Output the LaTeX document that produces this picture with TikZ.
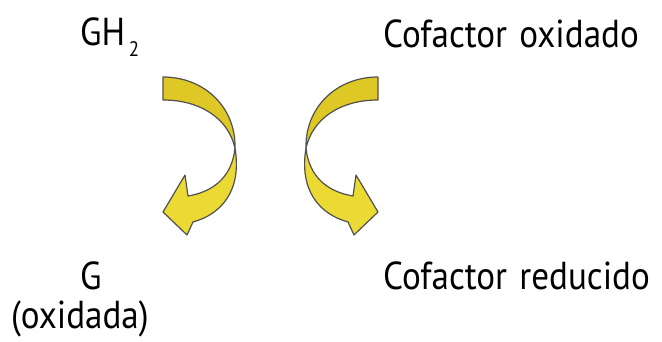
\documentclass[tikz,border=0pt]{standalone}
\usepackage{fontspec}
\setmainfont{PT Sans}
\definecolor{ribbonA}{RGB}{236,218,52}
\definecolor{ribbonB}{RGB}{222,200,38}
\definecolor{ribbonEdge}{RGB}{80,80,80}
\tikzset{
  lbl/.style={anchor=base west, inner sep=0pt, font=\fontsize{39}{44}\selectfont},
  band/.style={draw=ribbonEdge, line width=1.2pt, line join=round},
}
\newcommand{\narrow}[1]{\scalebox{0.9}[1]{#1}}
\newcommand{\lowtwo}{\hspace{0.1em}\raisebox{-0.3em}{\fontsize{21}{22}\selectfont 2}}
\begin{document}
\begin{tikzpicture}[x=1pt,y=-1pt]
  \useasboundingbox (0,0) rectangle (662,341);
  % labels
  \node[lbl] (gh2) at (80,45) {\narrow{GH\lowtwo}};
  \node[lbl] (cofox) at (383,47) {\narrow{Cofactor\hspace{0.35em}oxidado}};
  \node[lbl] (g) at (80,289) {\narrow{G}};
  \node[lbl] (gox) at (11,328) {\narrow{(oxidada)}};
  \node[lbl] (cofred) at (383,289) {\narrow{Cofactor\hspace{0.35em}reducido}};
  % twisted ribbon arrow, drawn once and mirrored
  \newcommand{\twistarrow}{%
    % lower band with head
    \filldraw[band, fill=ribbonA]
      (235,148) .. controls (232,178) and (212,192) .. (188,196)
      -- (185,175) -- (163,212) -- (187,235) -- (193,222)
      .. controls (222,214) and (242,190) .. (235,148) -- cycle;
    % upper band from the tail
    \filldraw[band, fill=ribbonB]
      (163,77) .. controls (205,77) and (236,108) .. (235,148)
      .. controls (228,118) and (200,100) .. (163,100) -- cycle;
  }
  \twistarrow
  \begin{scope}[xshift=541pt, xscale=-1]
    \twistarrow
  \end{scope}
\end{tikzpicture}
\end{document}
